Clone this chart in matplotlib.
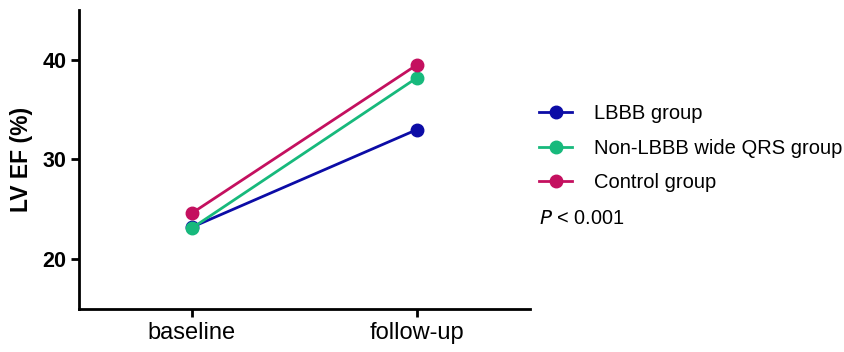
import matplotlib
matplotlib.use("Agg")
import matplotlib.pyplot as plt
from matplotlib.lines import Line2D

plt.rcParams["font.family"] = ["Liberation Sans", "DejaVu Sans"]

# data
timepoints = ["baseline", "follow-up"]
groups = ["LBBB group", "Non-LBBB wide QRS group", "Control group"]
lbbb = [23.2, 33.0]
non_lbbb = [23.1, 38.2]
control = [24.6, 39.5]
colors = ["#0c0ca6", "#17b97c", "#c4105f"]

fig = plt.figure(figsize=(8.45, 3.52), dpi=100)
ax = fig.add_axes([0.0935, 0.122, 0.5335, 0.850])

x = range(len(timepoints))
for vals, col, name in zip([lbbb, non_lbbb, control], colors, groups):
    ax.plot(x, vals, color=col, lw=2.0, marker="o", ms=9, label=name)

ax.set_xlim(-0.5, 1.5)
ax.set_ylim(15, 45)
ax.set_xticks(list(x))
ax.set_xticklabels(timepoints, fontsize=17)
ax.set_yticks([20, 30, 40])
ax.set_yticklabels(["20", "30", "40"], fontsize=15.5, fontweight="bold")
ax.set_ylabel("LV EF (%)", fontsize=16.5, fontweight="bold", labelpad=7)

for s in ["top", "right"]:
    ax.spines[s].set_visible(False)
for s in ["left", "bottom"]:
    ax.spines[s].set_linewidth(2)
ax.tick_params(width=2, length=6, pad=3)

handles = [Line2D([0], [0], color=c, lw=2.0, marker="o", ms=9) for c in colors]
fig.legend(handles, groups, loc="upper left", bbox_to_anchor=(0.638, 0.704),
           frameon=False, fontsize=14.5, handlelength=1.65, handletextpad=1.1,
           labelspacing=0.77, borderpad=0, borderaxespad=0)
fig.text(0.638, 0.38, r"$\it{P}$ < 0.001", fontsize=14.3, va="center")

fig.savefig("out.png", dpi=100)
